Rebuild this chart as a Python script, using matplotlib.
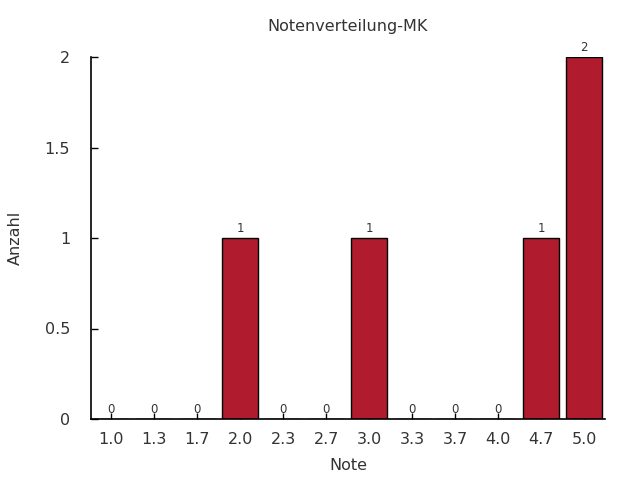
import matplotlib
matplotlib.use("Agg")
import matplotlib.pyplot as plt

categories = ["1.0", "1.3", "1.7", "2.0", "2.3", "2.7", "3.0", "3.3", "3.7", "4.0", "4.7", "5.0"]
counts = [0, 0, 0, 1, 0, 0, 1, 0, 0, 0, 1, 2]
yticks = [0, 0.5, 1, 1.5, 2]
ytick_labels = ["0", "0.5", "1", "1.5", "2"]

plt.rcParams['font.family'] = ['DejaVu Sans']
fig = plt.figure(figsize=(6.4, 4.8), dpi=100)
ax = fig.add_axes([91/640, 61/480, (605-91)/640, (419-57)/480])

tc = "#333333"
fs = 11.5
x = list(range(len(categories)))
ax.bar(x, counts, width=0.84, color="#B01C2E", edgecolor="black", linewidth=1.0, zorder=2)
for xi, c in zip(x, counts):
    ax.text(xi, c + 0.015, str(c), ha="center", va="bottom", fontsize=8.5, color=tc)

ax.set_xlim(-0.47, 11.49)
ax.set_ylim(0, 2)
ax.set_xticks(x)
ax.set_xticklabels(categories, fontsize=fs, color=tc)
ax.set_yticks(yticks)
ax.set_yticklabels(ytick_labels, fontsize=fs, color=tc)
ax.tick_params(axis="y", direction="in", length=5, width=1, pad=15)
ax.tick_params(axis="x", direction="in", length=4, width=1, pad=9)
for s in ["top", "right"]:
    ax.spines[s].set_visible(False)
for s in ["left", "bottom"]:
    ax.spines[s].set_linewidth(1.2)

ax.set_title("Notenverteilung-MK", fontsize=fs, color=tc, pad=19)
ax.set_xlabel("Note", fontsize=fs, color=tc, labelpad=8)
ax.set_ylabel("Anzahl", fontsize=fs, color=tc, labelpad=16)

fig.savefig("out.png", dpi=100)
